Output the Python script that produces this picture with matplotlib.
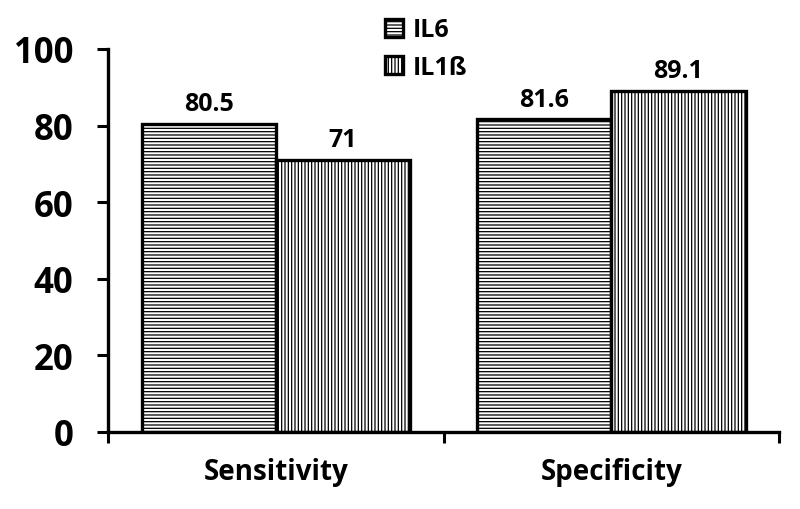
import numpy as np
import matplotlib
matplotlib.use('Agg')
import matplotlib.pyplot as plt

plt.rcParams['font.family'] = ['Open Sans', 'DejaVu Sans']
plt.rcParams['font.weight'] = 'bold'
plt.rcParams['hatch.linewidth'] = 0.9
plt.rcParams['hatch.color'] = '#222222'

# data
categories = ['Sensitivity', 'Specificity']
series_names = ['IL6', 'IL1ß']
il6 = [80.5, 81.6]
il1b = [71, 89.1]
il6_labels = ['80.5', '81.6']
il1b_labels = ['71', '89.1']

fig = plt.figure(figsize=(8, 5.1), dpi=100)
ax = fig.add_axes([0.135, 0.151, 0.839, 0.751])

x = np.arange(len(categories))
w = 0.4
b1 = ax.bar(x - w/2, il6, w, facecolor='white', edgecolor='black', linewidth=2.4,
            hatch='-----', label=series_names[0])
b2 = ax.bar(x + w/2, il1b, w, facecolor='white', edgecolor='black', linewidth=2.4,
            hatch='|||||', label=series_names[1])

for bars, labs in [(b1, il6_labels), (b2, il1b_labels)]:
    for r, t in zip(bars, labs):
        ax.text(r.get_x() + r.get_width()/2, r.get_height() + 2.0, t,
                ha='center', va='bottom', fontsize=18, fontweight='bold')

ax.set_xlim(-0.5, 1.5)
ax.set_ylim(0, 100)
ax.set_yticks([0, 20, 40, 60, 80, 100])
ax.tick_params(axis='y', labelsize=25, width=2.2, length=8, pad=17)
ax.set_xticks([-0.5, 0.5, 1.5])
ax.set_xticklabels([])
ax.set_xticks(x, minor=True)
ax.set_xticklabels(categories, minor=True, fontsize=20, fontweight='bold')
ax.tick_params(axis='x', which='major', width=2.2, length=8)
ax.tick_params(axis='x', which='minor', length=0, pad=18)
for t in ax.get_yticklabels():
    t.set_fontweight('bold')

for s in ['top', 'right']:
    ax.spines[s].set_visible(False)
for s in ['left', 'bottom']:
    ax.spines[s].set_linewidth(2.4)

leg = fig.legend(handles=[b1, b2], loc='upper left', bbox_to_anchor=(0.481, 0.964),
                 frameon=False, prop={'size': 18, 'weight': 'bold'},
                 handlelength=0.72, handleheight=0.72, handletextpad=0.4,
                 labelspacing=0.5, borderpad=0, borderaxespad=0)

fig.savefig('out.png', dpi=100)
